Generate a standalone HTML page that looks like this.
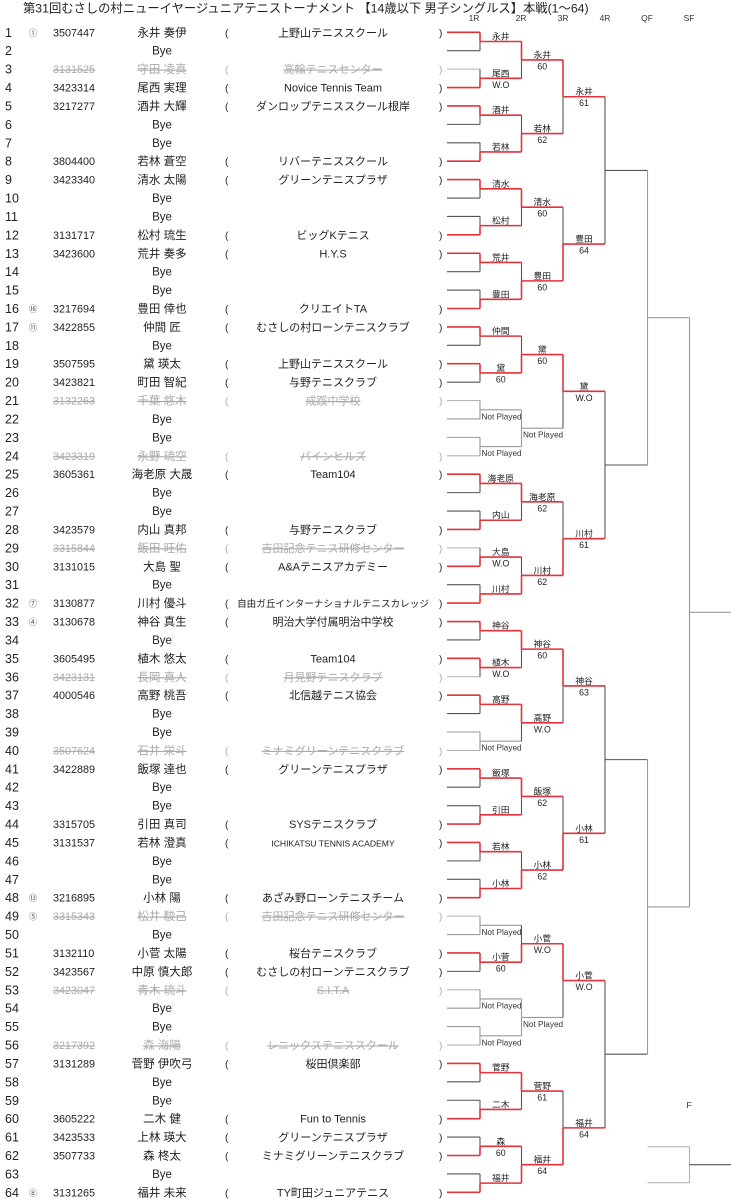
<!DOCTYPE html>
<html><head><meta charset="utf-8">
<style>
html,body{margin:0;padding:0;background:#fff;}
body{width:731px;height:1200px;overflow:hidden;}
svg{display:block;font-family:"Liberation Sans","Noto Sans CJK JP",sans-serif;}
</style></head>
<body>
<svg id="s" width="731" height="1200" xmlns="http://www.w3.org/2000/svg">
<text x="23" y="12.5" font-size="12.3" fill="#222">第31回むさしの村ニューイヤージュニアテニストーナメント 【14歳以下 男子シングルス】本戦(1～64)</text>
<g font-size="8.5" fill="#333" text-anchor="middle">
<text x="474" y="21">1R</text><text x="521" y="21">2R</text><text x="563" y="21">3R</text><text x="605" y="21">4R</text><text x="647" y="21">QF</text><text x="689" y="21">SF</text>
<text x="689" y="1108">F</text>
</g>
</svg>
<script>
const P=[
[1,"①","3507447","永井 奏伊","上野山テニススクール",0],
[2,"","","Bye","",0],
[3,"","3131525","守田 凌真","高輪テニスセンター",1],
[4,"","3423314","尾西 実理","Novice Tennis Team",0],
[5,"","3217277","酒井 大輝","ダンロップテニススクール根岸",0],
[6,"","","Bye","",0],
[7,"","","Bye","",0],
[8,"","3804400","若林 蒼空","リバーテニススクール",0],
[9,"","3423340","清水 太陽","グリーンテニスプラザ",0],
[10,"","","Bye","",0],
[11,"","","Bye","",0],
[12,"","3131717","松村 琉生","ビッグKテニス",0],
[13,"","3423600","荒井 奏多","H.Y.S",0],
[14,"","","Bye","",0],
[15,"","","Bye","",0],
[16,"⑯","3217694","豊田 倖也","クリエイトTA",0],
[17,"⑪","3422855","仲間 匠","むさしの村ローンテニスクラブ",0],
[18,"","","Bye","",0],
[19,"","3507595","黛 瑛太","上野山テニススクール",0],
[20,"","3423821","町田 智紀","与野テニスクラブ",0],
[21,"","3132263","千葉 悠木","成蹊中学校",1],
[22,"","","Bye","",0],
[23,"","","Bye","",0],
[24,"","3423319","永野 琉空","パインヒルズ",1],
[25,"","3605361","海老原 大晟","Team104",0],
[26,"","","Bye","",0],
[27,"","","Bye","",0],
[28,"","3423579","内山 真邦","与野テニスクラブ",0],
[29,"","3315844","飯田 旺佑","吉田記念テニス研修センター",1],
[30,"","3131015","大島 聖","A&amp;Aテニスアカデミー",0],
[31,"","","Bye","",0],
[32,"⑦","3130877","川村 優斗","自由ガ丘インターナショナルテニスカレッジ",0],
[33,"④","3130678","神谷 真生","明治大学付属明治中学校",0],
[34,"","","Bye","",0],
[35,"","3605495","植木 悠太","Team104",0],
[36,"","3423131","長岡 真人","月見野テニスクラブ",1],
[37,"","4000546","高野 桃吾","北信越テニス協会",0],
[38,"","","Bye","",0],
[39,"","","Bye","",0],
[40,"","3507624","石井 栄斗","ミナミグリーンテニスクラブ",1],
[41,"","3422889","飯塚 達也","グリーンテニスプラザ",0],
[42,"","","Bye","",0],
[43,"","","Bye","",0],
[44,"","3315705","引田 真司","SYSテニスクラブ",0],
[45,"","3131537","若林 澄真","ICHIKATSU TENNIS ACADEMY",0],
[46,"","","Bye","",0],
[47,"","","Bye","",0],
[48,"⑬","3216895","小林 陽","あざみ野ローンテニスチーム",0],
[49,"⑤","3315343","松井 駿己","吉田記念テニス研修センター",1],
[50,"","","Bye","",0],
[51,"","3132110","小菅 太陽","桜台テニスクラブ",0],
[52,"","3423567","中原 慎大郎","むさしの村ローンテニスクラブ",0],
[53,"","3423047","青木 琉斗","S.I.T.A",1],
[54,"","","Bye","",0],
[55,"","","Bye","",0],
[56,"","3217392","森 海陽","レニックステニススクール",1],
[57,"","3131289","菅野 伊吹弓","桜田倶楽部",0],
[58,"","","Bye","",0],
[59,"","","Bye","",0],
[60,"","3605222","二木 健","Fun to Tennis",0],
[61,"","3423533","上林 瑛大","グリーンテニスプラザ",0],
[62,"","3507733","森 柊太","ミナミグリーンテニスクラブ",0],
[63,"","","Bye","",0],
[64,"⑧","3131265","福井 未来","TY町田ジュニアテニス",0]];
const R1=[[0,"永井",""],[1,"尾西","W.O"],[0,"酒井",""],[1,"若林",""],[0,"清水",""],[1,"松村",""],[0,"荒井",""],[1,"豊田",""],
[0,"仲間",""],[0,"黛","60"],[-1],[-1],[0,"海老原",""],[1,"内山",""],[1,"大島","W.O"],[1,"川村",""],
[0,"神谷",""],[0,"植木","W.O"],[0,"高野",""],[-1],[0,"飯塚",""],[1,"引田",""],[0,"若林",""],[1,"小林",""],
[-1],[0,"小菅","60"],[-1],[-1],[0,"菅野",""],[1,"二木",""],[1,"森","60"],[1,"福井",""]];
const R2=[[0,"永井","60"],[1,"若林","62"],[0,"清水","60"],[1,"豊田","60"],[1,"黛","60"],[-1],[0,"海老原","62"],[1,"川村","62"],
[0,"神谷","60"],[0,"高野","W.O"],[0,"飯塚","62"],[1,"小林","62"],[1,"小菅","W.O"],[-1],[0,"菅野","61"],[1,"福井","64"]];
const R3=[[0,"永井","61"],[1,"豊田","64"],[0,"黛","W.O"],[1,"川村","61"],[0,"神谷","63"],[1,"小林","61"],[0,"小菅","W.O"],[1,"福井","64"]];
const RED="#e3323a",DK="#555",GR="#999",LT="#b4b4b4";
const X=[447,480,521.5,563,605,647.5,689.5,731];
const Y=i=>32.3+(i-1)*18.413;
const s=document.getElementById('s');
let h='';
function ln(x1,y1,x2,y2,c,w){h+=`<line x1="${x1}" y1="${y1}" x2="${x2}" y2="${y2}" stroke="${c}" stroke-width="${w||(c==RED?1.6:1.1)}"/>`;}
function tx(x,y,t,o){h+=`<text x="${x}" y="${y}" ${o||''}>${t}</text>`;}
P.forEach(p=>{
 const y=Y(p[0])+4;const st=p[5];const col=st?'#aaa':'#222';const dec=st?' text-decoration="line-through"':'';
 tx(5,y+0.5,p[0],`font-size="12.5" fill="#222"`);
 if(p[1])tx(33,y-0.5,p[1],`font-size="8.5" fill="#555" text-anchor="middle"`);
 if(p[3]=="Bye"){tx(162,y,"Bye",`font-size="11.5" fill="#222" text-anchor="middle"`);return;}
 tx(53,y,p[2],`font-size="10.8" fill="${col}"${dec}`);
 tx(162,y,p[3],`font-size="11.5" fill="${col}" text-anchor="middle"${dec}`);
 tx(225,y,"(",`font-size="10" fill="${col}"`);
 let fs=11;
 if(p[4].length>18)fs=9.6;
 if(p[4]=="ICHIKATSU TENNIS ACADEMY")fs=8.6;
 tx(333,y,p[4],`font-size="${fs}" fill="${col}" text-anchor="middle"${dec}`);
 tx(439,y,")",`font-size="10" fill="${col}"`);
});
function match(l,ya,yb,r){
 const m=(ya+yb)/2,w=r?r[0]:-2;
 const np=w==-1;
 ln(X[l],ya,X[l],m,w==0?RED:(np?GR:(l>=5?GR:DK)));
 ln(X[l],m,X[l],yb,w==1?RED:(np?GR:(l>=5?GR:DK)));
 ln(X[l],m,X[l+1],m,w>=0?RED:(np?GR:(l>=5?GR:DK)));
 const cx=(X[l]+X[l+1])/2;
 if(w>=0){
  tx(cx,m-2,r[1],`font-size="8.8" fill="#222" text-anchor="middle"`);
  if(r[2])tx(cx,m+9.5,r[2],`font-size="8.8" fill="#222" text-anchor="middle"`);
 } else if(np){
  tx(X[l]+1.5,m+9.5,"Not Played",`font-size="8.2" fill="#333"`);
 }
 return m;
}
let m1=[];
for(let i=0;i<32;i++){
 const a=2*i+1,b=a+1,r=R1[i],w=r[0];
 [a,b].forEach((row,k)=>{const p=P[row-1];let c=p[5]?LT:(w==k?RED:(w==-1?GR:DK));ln(X[0],Y(row),X[1],Y(row),c);});
 m1.push(match(1,Y(a),Y(b),r));
}
let m2=[];for(let i=0;i<16;i++)m2.push(match(2,m1[2*i],m1[2*i+1],R2[i]));
let m3=[];for(let i=0;i<8;i++)m3.push(match(3,m2[2*i],m2[2*i+1],R3[i]));
let m4=[];for(let i=0;i<4;i++)m4.push(match(4,m3[2*i],m3[2*i+1],null));
let m5=[];for(let i=0;i<2;i++)m5.push(match(5,m4[2*i],m4[2*i+1],null));
match(6,m5[0],m5[1],null);
ln(647.5,1146.7,689.5,1146.7,LT);ln(647.5,1182.7,689.5,1182.7,LT);
ln(689.5,1146.7,689.5,1182.7,LT);ln(689.5,1164.7,731,1164.7,DK);
s.insertAdjacentHTML('beforeend',h);
</script>
</body></html>
